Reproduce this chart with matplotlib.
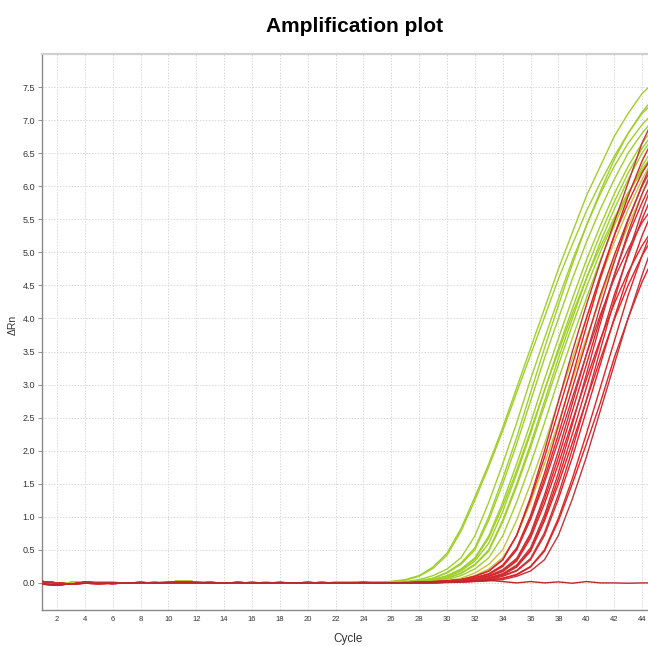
import matplotlib
matplotlib.use("Agg")
import matplotlib.pyplot as plt
from matplotlib import font_manager

# cycles 1..25 share a flat baseline, 26..45 are per well
early_cycles = list(range(1, 26))
late_cycles = list(range(26, 46))

base_green = [0.01, -0.01, 0.005, 0.015, 0.01, 0.005, 0.0, 0.005, 0.0, 0.01, 0.03, 0.015, 0.005,
              0.0, 0.005, 0.0, 0.005, 0.0, 0.0, 0.005, 0.0, 0.005, 0.005, 0.01, 0.01]
base_red_a = [-0.02, -0.03, -0.015, -0.005, -0.01, -0.005, 0.0, 0.005, 0.0, 0.005, 0.01, 0.005, 0.0,
              0.0, 0.005, 0.0, 0.0, 0.005, 0.0, 0.0, 0.005, 0.0, 0.0, 0.0, 0.0]
base_red_b = [0.02, 0.0, -0.02, 0.01, 0.0, -0.01, 0.0, 0.0, 0.005, 0.0, 0.0, 0.0, 0.005,
              0.0, 0.0, 0.005, 0.0, 0.0, 0.0, 0.005, 0.0, 0.0, 0.0, 0.005, 0.0]

# green wells (early Ct)
green_wells = [
    [0.02, 0.05, 0.11, 0.24, 0.45, 0.82, 1.3, 1.8, 2.35, 2.95, 3.55, 4.15, 4.75, 5.3, 5.85, 6.3, 6.75, 7.1, 7.4, 7.6],
    [0.02, 0.04, 0.1, 0.22, 0.42, 0.78, 1.25, 1.76, 2.3, 2.88, 3.45, 4.02, 4.6, 5.12, 5.62, 6.05, 6.45, 6.8, 7.1, 7.3],
    [0.008, 0.02, 0.05, 0.11, 0.21, 0.38, 0.71, 1.22, 1.8, 2.42, 3.08, 3.7, 4.3, 4.88, 5.4, 5.88, 6.3, 6.65, 6.93, 7.15],
    [0.005, 0.01, 0.03, 0.07, 0.15, 0.28, 0.5, 0.95, 1.5, 2.1, 2.75, 3.4, 4.0, 4.6, 5.15, 5.65, 6.1, 6.5, 6.8, 7.05],
    [0.005, 0.01, 0.03, 0.07, 0.16, 0.3, 0.53, 1.0, 1.58, 2.2, 2.88, 3.55, 4.2, 4.82, 5.4, 5.92, 6.4, 6.8, 7.12, 7.38],
    [0.004, 0.008, 0.02, 0.05, 0.11, 0.21, 0.38, 0.71, 1.22, 1.8, 2.42, 3.08, 3.7, 4.3, 4.88, 5.4, 5.88, 6.3, 6.65, 6.93],
    [0.004, 0.008, 0.02, 0.05, 0.1, 0.2, 0.36, 0.68, 1.16, 1.7, 2.3, 2.92, 3.5, 4.07, 4.6, 5.08, 5.52, 5.9, 6.22, 6.48],
    [0.003, 0.006, 0.015, 0.04, 0.09, 0.18, 0.33, 0.6, 1.08, 1.65, 2.26, 2.91, 3.55, 4.15, 4.74, 5.27, 5.76, 6.2, 6.57, 6.86],
    [0.003, 0.005, 0.01, 0.03, 0.07, 0.15, 0.28, 0.5, 0.95, 1.5, 2.1, 2.75, 3.4, 4.0, 4.6, 5.15, 5.65, 6.1, 6.5, 6.8],
    [0.003, 0.005, 0.01, 0.03, 0.07, 0.14, 0.27, 0.48, 0.92, 1.46, 2.05, 2.68, 3.3, 3.9, 4.47, 5.0, 5.48, 5.9, 6.25, 6.55],
    [0.002, 0.004, 0.008, 0.02, 0.05, 0.11, 0.21, 0.38, 0.71, 1.22, 1.8, 2.42, 3.08, 3.7, 4.3, 4.88, 5.4, 5.88, 6.3, 6.65],
]

# yellowish wells mixed in with the reds
olive_wells = [
    [0.001, 0.003, 0.005, 0.01, 0.03, 0.07, 0.15, 0.28, 0.5, 0.95, 1.5, 2.1, 2.75, 3.4, 4.0, 4.6, 5.15, 5.65, 6.1, 6.5],
    [0.001, 0.002, 0.004, 0.008, 0.02, 0.05, 0.11, 0.21, 0.38, 0.71, 1.22, 1.8, 2.42, 3.08, 3.7, 4.3, 4.88, 5.4, 5.88, 6.3],
]

# red wells (late Ct)
red_wells = [
    [0.0, 0.005, 0.01, 0.02, 0.03, 0.05, 0.1, 0.18, 0.35, 0.72, 1.3, 2.0, 2.75, 3.5, 4.2, 4.85, 5.45, 6.05, 6.65, 7.1],
    [0.0, 0.005, 0.01, 0.02, 0.03, 0.05, 0.1, 0.18, 0.35, 0.72, 1.27, 1.9, 2.6, 3.3, 4.0, 4.65, 5.25, 5.75, 6.2, 6.55],
    [0.0, 0.0, 0.01, 0.015, 0.025, 0.04, 0.07, 0.13, 0.25, 0.5, 0.98, 1.58, 2.25, 2.95, 3.65, 4.35, 4.95, 5.5, 6.0, 6.4],
    [0.0, 0.0, 0.01, 0.015, 0.025, 0.04, 0.07, 0.13, 0.25, 0.5, 0.96, 1.52, 2.15, 2.8, 3.45, 4.05, 4.6, 5.05, 5.45, 5.75],
    [0.0, 0.0, 0.01, 0.015, 0.03, 0.05, 0.08, 0.14, 0.27, 0.53, 1.02, 1.66, 2.38, 3.12, 3.88, 4.6, 5.25, 5.85, 6.38, 6.8],
    [0.0, 0.0, 0.005, 0.01, 0.02, 0.03, 0.05, 0.1, 0.18, 0.35, 0.72, 1.27, 1.9, 2.6, 3.3, 4.0, 4.65, 5.25, 5.75, 6.2],
    [0.0, 0.0, 0.005, 0.01, 0.02, 0.03, 0.06, 0.11, 0.2, 0.37, 0.75, 1.33, 2.0, 2.72, 3.45, 4.18, 4.85, 5.48, 6.02, 6.5],
    [0.0, 0.0, 0.005, 0.01, 0.02, 0.03, 0.05, 0.1, 0.17, 0.33, 0.68, 1.2, 1.8, 2.45, 3.08, 3.68, 4.22, 4.7, 5.1, 5.42],
    [0.0, 0.0, 0.0, 0.01, 0.015, 0.025, 0.04, 0.07, 0.13, 0.25, 0.5, 0.98, 1.58, 2.25, 2.95, 3.65, 4.35, 4.95, 5.5, 6.0],
    [0.0, 0.0, 0.0, 0.01, 0.015, 0.03, 0.05, 0.08, 0.14, 0.27, 0.53, 1.03, 1.67, 2.4, 3.15, 3.92, 4.65, 5.3, 5.88, 6.38],
    [0.0, 0.0, 0.0, 0.01, 0.015, 0.025, 0.04, 0.07, 0.12, 0.24, 0.48, 0.94, 1.5, 2.12, 2.76, 3.38, 3.98, 4.5, 4.95, 5.3],
    [0.0, 0.0, 0.0, 0.005, 0.01, 0.02, 0.03, 0.05, 0.1, 0.18, 0.35, 0.72, 1.27, 1.9, 2.6, 3.3, 4.0, 4.65, 5.25, 5.75],
    [0.0, 0.0, 0.0, 0.005, 0.01, 0.02, 0.03, 0.06, 0.11, 0.19, 0.37, 0.76, 1.34, 2.02, 2.76, 3.52, 4.27, 4.98, 5.62, 6.18],
    [0.0, 0.0, 0.0, 0.0, 0.01, 0.015, 0.025, 0.04, 0.07, 0.13, 0.25, 0.5, 0.98, 1.58, 2.25, 2.95, 3.65, 4.35, 4.95, 5.5],
    [0.0, 0.0, 0.0, 0.0, 0.01, 0.015, 0.025, 0.04, 0.07, 0.12, 0.24, 0.48, 0.94, 1.5, 2.1, 2.72, 3.4, 4.0, 4.55, 5.0],
    [0.0, 0.0, 0.0, 0.0, 0.005, 0.01, 0.02, 0.03, 0.05, 0.1, 0.18, 0.35, 0.72, 1.27, 1.9, 2.6, 3.3, 4.0, 4.65, 5.25],
]

# negative control, stays flat
ntc_well = [0.0, 0.0, 0.005, 0.01, 0.015, 0.02, 0.03, 0.04, 0.02, 0.0, 0.02, 0.0, 0.015, -0.005, 0.02, 0.0, 0.0, -0.005, 0.0, 0.0]

y_ticks = [0.0, 0.5, 1.0, 1.5, 2.0, 2.5, 3.0, 3.5, 4.0, 4.5, 5.0, 5.5, 6.0, 6.5, 7.0, 7.5]
x_ticks = list(range(2, 46, 2))

# narrow sans if there is one, else Liberation Sans
installed = {f.name for f in font_manager.fontManager.ttflist}
small_font = 'Liberation Sans Narrow' if 'Liberation Sans Narrow' in installed else 'Liberation Sans'

W, H = 648, 646
fig = plt.figure(figsize=(W / 100, H / 100), dpi=100)
ax = fig.add_axes([42 / W, 36 / H, (W - 42) / W, (610 - 54) / H])

cycles = early_cycles + late_cycles

for w in green_wells:
    ax.plot(cycles, base_green + w, color='#9fd02a', lw=1.0, zorder=2)
for w in olive_wells:
    ax.plot(cycles, base_green + w, color='#c2c43a', lw=1.0, zorder=3)
for i, w in enumerate(red_wells):
    base = base_red_a if i % 2 == 0 else base_red_b
    col = '#e02424' if i % 3 else '#c8323a'
    ax.plot(cycles, base + w, color=col, lw=1.0, zorder=4)
ax.plot(cycles, base_red_a + ntc_well, color='#b8282e', lw=1.0, zorder=5)

ax.set_xlim(0.923, 44.43)
ax.set_ylim(-0.41, 8.0)
ax.set_xticks(x_ticks)
ax.set_yticks(y_ticks)
ax.set_yticklabels([f'{v:.1f}' for v in y_ticks], family=small_font, fontsize=6.5, color='#333333')
ax.set_xticklabels([str(v) for v in x_ticks], family=small_font, fontsize=5.5, color='#333333')
ax.tick_params(axis='y', length=3, width=0.6, color='#808080', pad=2)
ax.tick_params(axis='x', length=0, pad=4)
ax.grid(True, color='#d9d9d9', lw=0.7, linestyle=(0, (1.5, 1.5)))
ax.set_axisbelow(True)

for s in ['left', 'bottom']:
    ax.spines[s].set_color('#8a8a8a')
    ax.spines[s].set_linewidth(1.0)
ax.spines['top'].set_color('#d0d0d0')
ax.spines['top'].set_linewidth(1.6)
ax.spines['right'].set_visible(False)

fig.text(13 / W, 1 - 325 / H, 'ΔRn', rotation=90, ha='center', va='center',
         family=small_font, fontsize=7.5, color='#333333')
fig.text(348 / W, 1 - 639 / H, 'Cycle', ha='center', va='center',
         family=small_font, fontsize=8.5, color='#333333')
fig.text(355 / W, 1 - 27 / H, 'Amplification plot', ha='center', va='center',
         family=['Liberation Sans', 'DejaVu Sans'], fontsize=15, fontweight='bold')

fig.savefig('out.png', dpi=100)
